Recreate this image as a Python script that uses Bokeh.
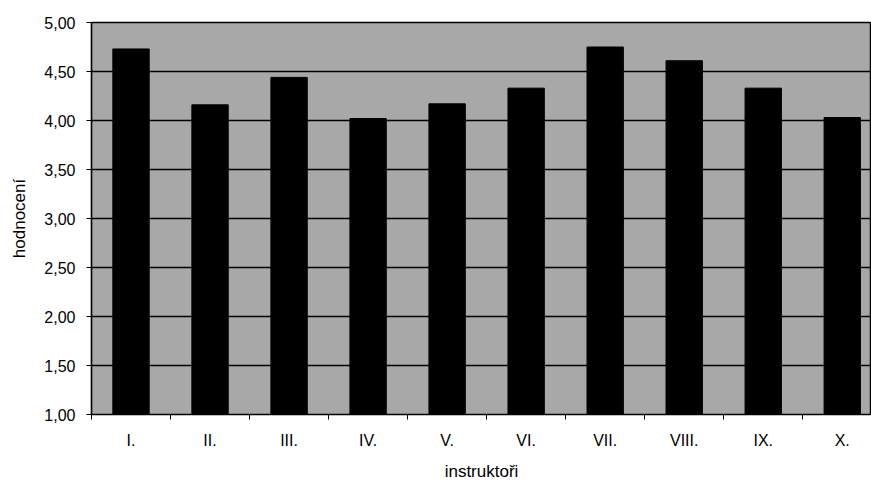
from bokeh.plotting import figure
from bokeh.models import FixedTicker, Range1d, ColumnDataSource
from bokeh.embed import file_html
from bokeh.resources import INLINE

categories = ["I.", "II.", "III.", "IV.", "V.", "VI.", "VII.", "VIII.", "IX.", "X."]
values = [4.73, 4.16, 4.44, 4.02, 4.17, 4.33, 4.75, 4.61, 4.33, 4.03]
y_ticks = [1.0, 1.5, 2.0, 2.5, 3.0, 3.5, 4.0, 4.5, 5.0]
y_tick_labels = ["1,00", "1,50", "2,00", "2,50", "3,00", "3,50", "4,00", "4,50", "5,00"]

n = len(categories)
centers = [i + 0.5 for i in range(n)]
bounds = [float(i) for i in range(n + 1)]

p = figure(width=871, height=483, output_backend="svg", toolbar_location=None,
           x_range=Range1d(0, 9.87), y_range=Range1d(1, 5),
           min_border_left=91, min_border_right=0, min_border_top=22, min_border_bottom=68)

p.background_fill_color = "#a8a8a8"
p.border_fill_color = "white"
p.outline_line_color = "black"
p.outline_line_width = 1.5

src = ColumnDataSource(dict(x=centers, top=values))
p.vbar(x="x", top="top", bottom=1, width=0.46, source=src, fill_color="black", line_color="black")

font = "Liberation Sans"
p.xaxis.ticker = FixedTicker(ticks=centers, minor_ticks=bounds)
p.xaxis.major_label_overrides = {c: l for c, l in zip(centers, categories)}
p.xaxis.major_tick_line_color = None
p.xaxis.minor_tick_line_color = "black"
p.xaxis.minor_tick_out = 5
p.xaxis.minor_tick_in = 0
p.xaxis.major_label_standoff = 11
p.xaxis.axis_label = "instruktoři"
p.xaxis.axis_label_standoff = 10

p.yaxis.ticker = FixedTicker(ticks=y_ticks)
p.yaxis.major_label_overrides = {t: l for t, l in zip(y_ticks, y_tick_labels)}
p.yaxis.minor_tick_line_color = None
p.yaxis.major_tick_out = 5
p.yaxis.major_tick_in = 0
p.yaxis.major_label_standoff = 11
p.yaxis.axis_label = "hodnocení"
p.yaxis.axis_label_standoff = 12

for ax in (p.xaxis, p.yaxis):
    ax.axis_line_color = "black"
    ax.axis_line_width = 1.2
    ax.major_label_text_font = font
    ax.major_label_text_font_size = "16px"
    ax.major_label_text_color = "black"
    ax.axis_label_text_font = font
    ax.axis_label_text_font_size = "17px"
    ax.axis_label_text_font_style = "normal"
    ax.axis_label_text_color = "black"

p.xgrid.grid_line_color = None
p.ygrid.grid_line_color = "black"
p.ygrid.grid_line_width = 1.3

open("out.html", "w").write(file_html(p, INLINE))
